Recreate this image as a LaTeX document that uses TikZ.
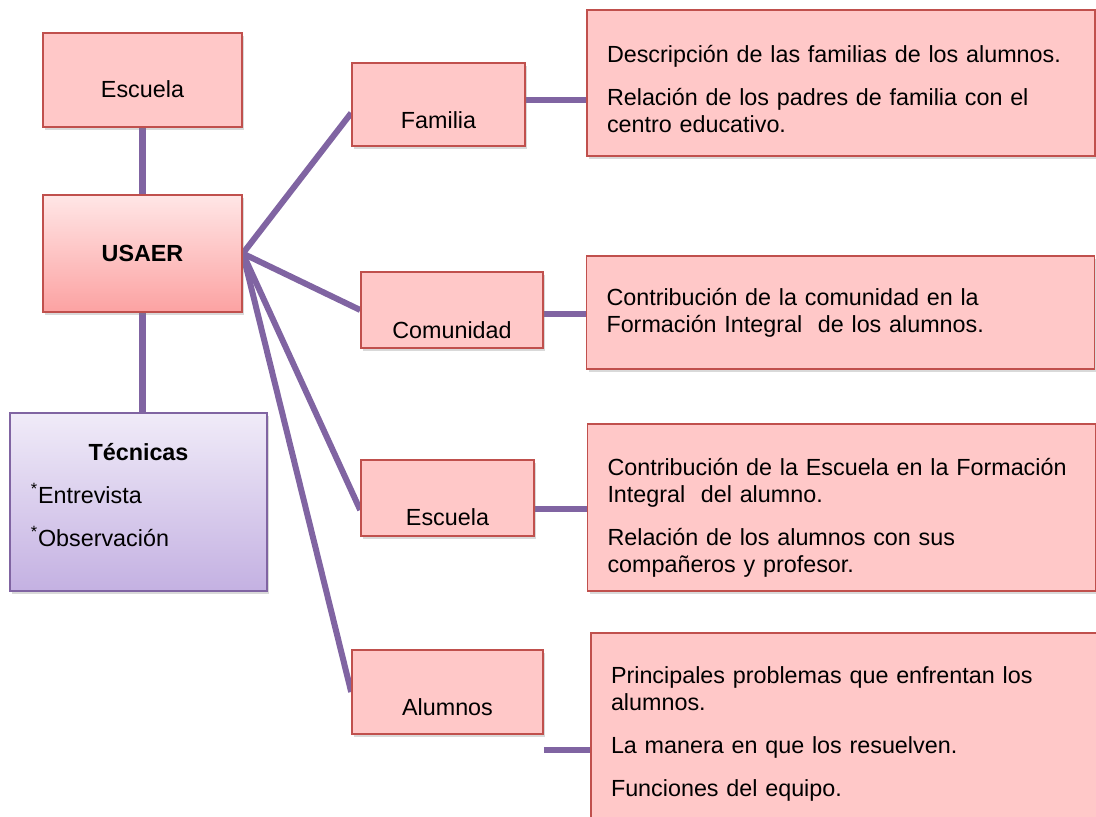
\documentclass[tikz,border=0pt]{standalone}
\usepackage{fontspec}
\setmainfont{Liberation Sans}
\usetikzlibrary{shadows,backgrounds}

\definecolor{boxred}{HTML}{C0504D}
\definecolor{boxpink}{HTML}{FFC8C8}
\definecolor{usaertop}{HTML}{FFE6E6}
\definecolor{usaerbot}{HTML}{FCA2A2}
\definecolor{linkpurple}{HTML}{8064A2}
\definecolor{lilactop}{HTML}{F0EBF8}
\definecolor{lilacbot}{HTML}{C4B1E2}

\tikzset{
  every node/.style={font=\fontsize{17.5}{20.3}\selectfont},
  box/.style={draw=boxred, fill=boxpink, line width=1.2pt, inner sep=0pt,
    drop shadow={shadow xshift=1.5pt, shadow yshift=-2.2pt, opacity=.3}},
  note/.style={box, align=left, text width=351pt, inner xsep=15pt},
  link/.style={draw=linkpurple, line width=4.5pt},
}

\begin{document}
\begin{tikzpicture}[x=0.75pt, y=-0.75pt]
  \useasboundingbox (0,0) rectangle (1096,817);
  \clip (0,0) rectangle (1096,817);

  % left column
  \node[box, minimum width=149.25pt, minimum height=70.5pt, text height=27pt, text depth=0pt] (esc) at (142.5,80) {Escuela};
  \node[box, top color=usaertop, bottom color=usaerbot, minimum width=149.25pt, minimum height=87.75pt] (usaer) at (142.5,253.5) {\textbf{USAER}};
  \node[box, draw=linkpurple, top color=lilactop, bottom color=lilacbot, align=left, text width=161.25pt, inner xsep=15.75pt, minimum height=133.5pt] (tec) at (138.5,502)
    {\makebox[161.25pt]{\textbf{Técnicas}}\\[12pt]\textsuperscript{*}Entrevista\\[12pt]\textsuperscript{*}Observación\rule[-11pt]{0pt}{11pt}};

  % middle column
  \node[box, minimum width=129.75pt, minimum height=62.25pt, text height=35.25pt, text depth=0pt] (fam) at (438.5,104.5) {Familia};
  \node[box, minimum width=136.5pt, minimum height=57pt, text height=42pt, text depth=0pt] (com) at (452,310) {Comunidad};
  \node[box, minimum width=129.75pt, minimum height=57pt, text height=40.5pt, text depth=0pt] (escm) at (447.5,498) {Escuela};
  \node[box, minimum width=143.25pt, minimum height=63pt, text height=34.5pt, text depth=0pt] (alu) at (447.5,692) {Alumnos};

  % right column
  \node[note, minimum height=109.5pt] (d1) at (841,83)
    {\rule{0pt}{22pt}Descripción de las familias de los alumnos.\\[12pt]Relación de los padres de familia con el\\centro educativo.};
  \node[note, minimum height=84.75pt] (d2) at (840.5,312.5)
    {Contribución de la comunidad en la\\Formación Integral\ \ de los alumnos.};
  \node[note, minimum height=125.25pt] (d3) at (841.5,507.5)
    {\rule{0pt}{28pt}Contribución de la Escuela en la Formación\\Integral\ \ del alumno.\\[12pt]Relación de los alumnos con sus\\compañeros y profesor.};
  \node[note, minimum height=144pt] (d4) at (845,729)
    {\rule{0pt}{20pt}Principales problemas que enfrentan los\\alumnos.\\[12pt]La manera en que los resuelven.\\[12pt]Funciones del equipo.};

  \coordinate (f1) at ([yshift=3.4pt]fam.east);
  \coordinate (c1) at ([yshift=-3pt]com.east);
  \coordinate (e1) at ([yshift=-8.25pt]escm.east);
  \coordinate (a1) at ([yshift=-43.5pt]alu.east);

  \begin{scope}[on background layer]
    \draw[link, line width=5pt] (esc.south) -- (usaer.north);
    \draw[link, line width=5pt] (usaer.south) -- (usaer.south |- tec.north);
    \draw[link] (usaer.east) -- ([yshift=-6.4pt]fam.west);
    \foreach \to in {com, alu}
      \draw[link] (usaer.east) -- (\to.west);
    \draw[link] (usaer.east) -- ([yshift=-9pt]escm.west);
    \foreach \from/\to in {f1/d1, c1/d2, e1/d3, a1/d4}
      \draw[link] (\from) -- (\from -| \to.west);
  \end{scope}
\end{tikzpicture}
\end{document}
